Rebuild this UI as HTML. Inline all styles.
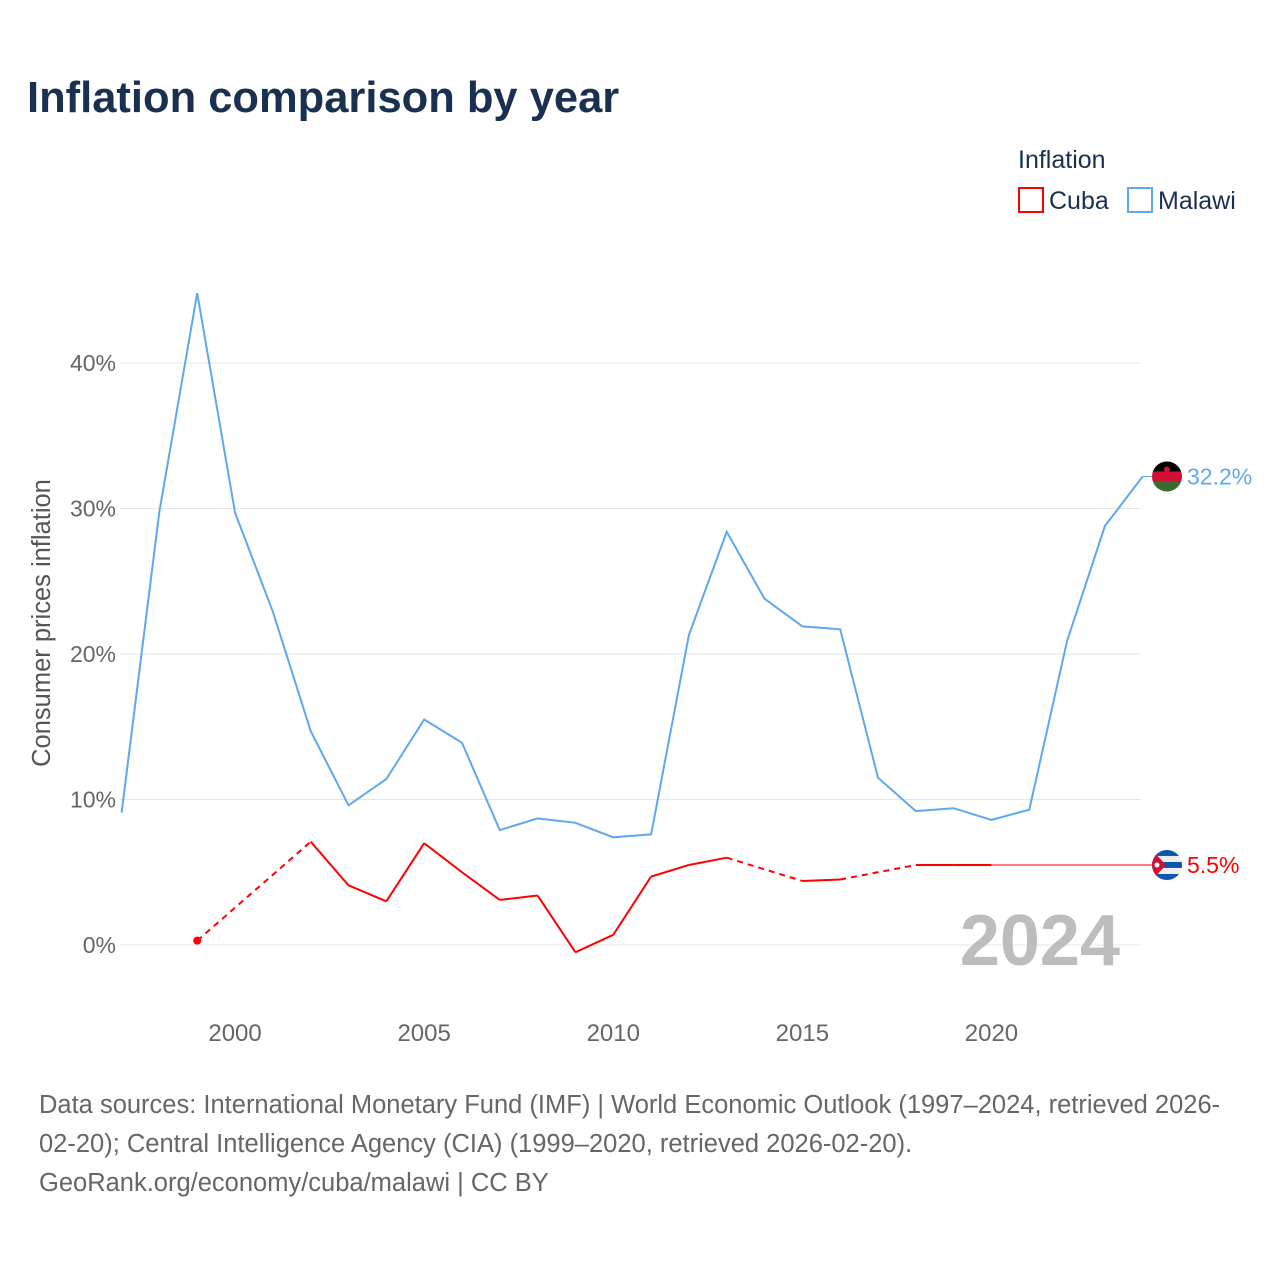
<!DOCTYPE html>
<html><head><meta charset="utf-8"><style>
body{margin:0;background:#fff;font-family:"Liberation Sans",sans-serif}
svg text{font-family:"Liberation Sans",sans-serif}
</style></head><body>
<svg id="chart" width="1280" height="1280" viewBox="0 0 1280 1280" xmlns="http://www.w3.org/2000/svg">
<text x="27" y="112" font-size="43.5" font-weight="bold" fill="#1a3050">Inflation comparison by year</text>
<g>
<text x="1018" y="168" font-size="25" fill="#1a3050">Inflation</text>
<rect x="1019" y="188" width="24" height="24" fill="none" stroke="#ff0000" stroke-width="2"/>
<text x="1049" y="209" font-size="25" fill="#1a3050">Cuba</text>
<rect x="1128" y="188" width="24" height="24" fill="none" stroke="#5ea8ee" stroke-width="2"/>
<text x="1158" y="209" font-size="25" fill="#1a3050">Malawi</text>
</g>
<g id="grid"></g><g id="marks"></g>
<text transform="translate(50,623) rotate(-90)" text-anchor="middle" font-size="25.5" fill="#555">Consumer prices inflation</text>
<text x="1120" y="965" text-anchor="end" font-size="72" font-weight="bold" fill="#bdbdbd">2024</text>
<text font-size="25.5" fill="#666">
<tspan x="39" y="1113">Data sources: International Monetary Fund (IMF) | World Economic Outlook (1997–2024, retrieved 2026-</tspan>
<tspan x="39" y="1152">02-20); Central Intelligence Agency (CIA) (1999–2020, retrieved 2026-02-20).</tspan>
<tspan x="39" y="1191">GeoRank.org/economy/cuba/malawi | CC BY</tspan>
</text>
</svg>
<script>
const years=[1997,1998,1999,2000,2001,2002,2003,2004,2005,2006,2007,2008,2009,2010,2011,2012,2013,2014,2015,2016,2017,2018,2019,2020,2021,2022,2023,2024];
const malawi=[9.1,29.8,44.8,29.7,22.9,14.7,9.6,11.4,15.5,13.9,7.9,8.7,8.4,7.4,7.6,21.3,28.4,23.8,21.9,21.7,11.5,9.2,9.4,8.6,9.3,20.9,28.8,32.2];
const cuba=[null,null,0.3,null,null,7.1,4.1,3.0,7.0,5.0,3.1,3.4,-0.5,0.7,4.7,5.5,6.0,null,4.4,4.5,null,5.5,5.5,5.5,null,null,null,null];
const cubaLatest=5.5;
const yTicks=[0,10,20,30,40];
const xTicks=[2000,2005,2010,2015,2020];
const NS="http://www.w3.org/2000/svg";
const X=y=>121.6+(y-1997)*37.82;
const Y=v=>945-v*14.55;
function mk(tag,attrs,parent){const e=document.createElementNS(NS,tag);for(const k in attrs)e.setAttribute(k,attrs[k]);parent.appendChild(e);return e;}
const grid=document.getElementById('grid'),marks=document.getElementById('marks');
yTicks.forEach(t=>{
 const l=mk('line',{x1:120,x2:1141,y1:Y(t),y2:Y(t),stroke:'#e6e6e6','stroke-width':1},grid);
 
 
 const tx=mk('text',{x:116,y:Y(t)+8,'text-anchor':'end','font-size':23,fill:'#666'},grid);
 tx.textContent=t+'%';
 
 
});
xTicks.forEach(t=>{
 const tx=mk('text',{x:X(t),y:1041,'text-anchor':'middle','font-size':24,fill:'#666'},grid);
 tx.textContent=t;
 
 
});
let d=malawi.map((v,i)=>(i?'L':'M')+X(years[i]).toFixed(1)+','+Y(v).toFixed(1)).join('');
const mp=mk('path',{d:d,fill:'none',stroke:'#5ea8ee','stroke-width':2},marks);


const pts=[];cuba.forEach((v,i)=>{if(v!==null)pts.push([years[i],v]);});
for(let i=1;i<pts.length;i++){
 const a=pts[i-1],b=pts[i];const gap=b[0]-a[0]>1;
 const s=mk('line',{x1:X(a[0]),y1:Y(a[1]),x2:X(b[0]),y2:Y(b[1]),stroke:'#ff0000','stroke-width':2},marks);
 if(gap)s.setAttribute('stroke-dasharray','6,5');
 
 
}
const dot=mk('circle',{cx:X(pts[0][0]),cy:Y(pts[0][1]),r:4,fill:'#ff0000'},marks);


const last=pts[pts.length-1];
const ext=mk('line',{x1:X(last[0]),y1:Y(cubaLatest),x2:1152,y2:Y(cubaLatest),stroke:'#ff0000','stroke-width':1},marks);


const mext=mk('line',{x1:X(2024),y1:Y(malawi[malawi.length-1]),x2:1152,y2:Y(malawi[malawi.length-1]),stroke:'#5ea8ee','stroke-width':1},marks);


function flag(cy,type){
 const g=mk('g',{},marks);
 const cid='c'+type;
 const cp=mk('clipPath',{id:cid},g);mk('circle',{cx:1167,cy:cy,r:15},cp);
 const f=mk('g',{'clip-path':'url(#'+cid+')'},g);
 if(type==='mw'){
  mk('rect',{x:1152,y:cy-15,width:30,height:10,fill:'#000'},f);
  mk('rect',{x:1152,y:cy-5,width:30,height:10,fill:'#d21034'},f);
  mk('rect',{x:1152,y:cy+5,width:30,height:10,fill:'#3a6b30'},f);
  mk('circle',{cx:1167,cy:cy-7,r:3,fill:'#d21034'},f);
 }else{
  for(let i=0;i<5;i++)mk('rect',{x:1152,y:cy-15+i*6,width:30,height:6,fill:i%2?'#eee':'#0a56b0'},f);
  mk('polygon',{points:`1152,${cy-15} 1166,${cy} 1152,${cy+15}`,fill:'#d21034'},f);
  mk('circle',{cx:1157,cy:cy,r:2.5,fill:'#fff'},f);
 }
 
 
}
flag(Y(malawi[malawi.length-1]),'mw');
flag(Y(cubaLatest),'cu');
const ml=mk('text',{x:1187,y:Y(malawi[malawi.length-1])+8,'font-size':23,fill:'#5ea8ee'},marks);
ml.textContent=malawi[malawi.length-1].toFixed(1)+'%';


const cl=mk('text',{x:1187,y:Y(cubaLatest)+8,'font-size':23,fill:'#ff0000'},marks);
cl.textContent=cubaLatest.toFixed(1)+'%';


</script>
</body></html>
